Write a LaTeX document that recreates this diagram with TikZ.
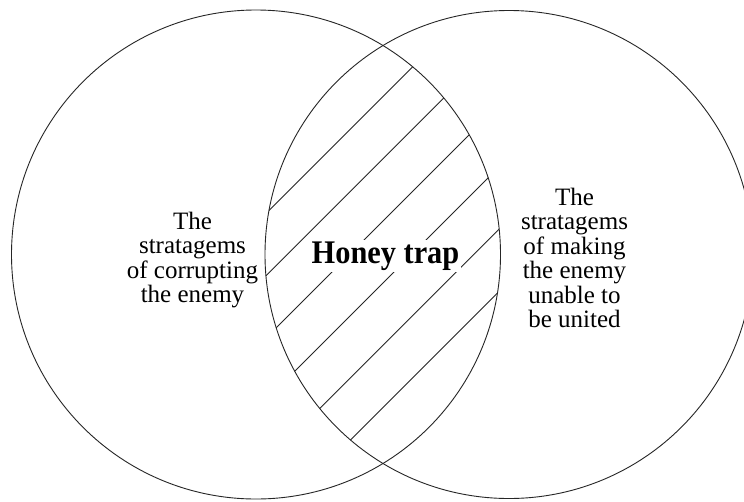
\documentclass[tikz,border=0pt]{standalone}
\usepackage{fontspec}
\setmainfont{Liberation Serif}
\newfontfamily\honeyfont{Liberation Serif}[FakeStretch=0.92]
\begin{document}
\begin{tikzpicture}[x=1pt,y=-1pt,
  ring/.style={line width=0.9pt, draw=black!85},
  hatch/.style={line width=0.9pt, draw=black!85},
  sidetext/.style={inner sep=0pt, anchor=base, font=\fontsize{25}{24.2}\selectfont},
  honey/.style={fill=white, inner sep=1.5pt, anchor=base, font=\honeyfont\bfseries\fontsize{33}{36}\selectfont}]
\useasboundingbox[fill=white] (0,0) rectangle (744,501);
\coordinate (cl) at (256,254.5);
\coordinate (cr) at (509,254.5);
\begin{scope}
  \clip (cl) circle[radius=244.5pt];
  \clip (cr) circle[radius=244pt];
  \foreach \c in {479.5,541.7,603.9,666.1,728.3,790.5}
    \draw[hatch] (\c,0) -- (\c-501,501);
\end{scope}
\draw[ring] (cl) circle[radius=244.5pt];
\draw[ring] (cr) circle[radius=244pt];
\node[sidetext] (lefttext) at (192.5,229.3)
  {\begin{tabular}[t]{@{}c@{}}The\\stratagems\\of corrupting\\the enemy\end{tabular}};
\node[sidetext] (righttext) at (574.5,205)
  {\begin{tabular}[t]{@{}c@{}}The\\stratagems\\of making\\the enemy\\unable to\\be united\end{tabular}};
\node[honey] (honeytrap) at (385.5,263) {Honey trap};
\end{tikzpicture}
\end{document}
